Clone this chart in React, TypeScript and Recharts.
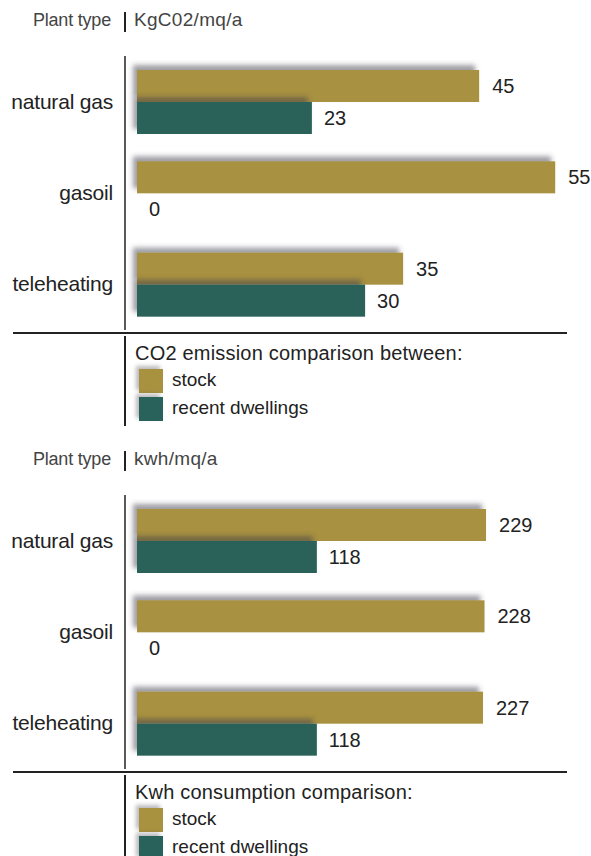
import { Bar, BarChart, LabelList, XAxis, YAxis } from "recharts";

const categories = ["natural gas", "gasoil", "teleheating"];
const co2Stock = [45, 55, 35];
const co2Recent = [23, 0, 30];
const kwhStock = [229, 228, 227];
const kwhRecent = [118, 0, 118];

const GOLD = "#A8913F";
const TEAL = "#29625A";
const INK = "#222222";
const FONT = '"Liberation Sans", Arial, Helvetica, sans-serif';

interface ShadowRectProps {
  x?: number;
  y?: number;
  width?: number;
  height?: number;
  fill?: string;
  filterId: string;
}

// bar with a soft shadow thrown up and to the left
function ShadowRect({ x, y, width, height, fill, filterId }: ShadowRectProps) {
  if (x == null || y == null || !width || !height) return null;
  return (
    <rect
      x={x}
      y={y}
      width={width}
      height={height}
      fill={fill}
      filter={`url(#${filterId})`}
    />
  );
}

function CategoryTick({ x, y, payload }: { x?: number; y?: number; payload?: { value: string } }) {
  return (
    <text
      x={x}
      y={y}
      dy={7}
      textAnchor="end"
      fontSize={21}
      letterSpacing={-0.2}
      fill={INK}
      fontFamily={FONT}
    >
      {payload?.value}
    </text>
  );
}

interface PanelProps {
  id: string;
  top: number;
  unit: string;
  legendTitle: string;
  stock: number[];
  recent: number[];
  max: number;
  right: number;
}

function Panel({ id, top, unit, legendTitle, stock, recent, max, right }: PanelProps) {
  const data = categories.map((name, i) => ({
    name,
    stock: stock[i],
    recent: recent[i],
  }));
  const filterId = `bar-shadow-${id}`;

  return (
    <div style={{ position: "absolute", left: 0, top, width: 591, height: 440 }}>
      {/* header row */}
      <div
        style={{
          position: "absolute",
          left: 0,
          top: 10,
          width: 111,
          textAlign: "right",
          fontSize: 18,
          letterSpacing: -0.2,
          color: "#444",
          lineHeight: "20px",
        }}
      >
        Plant type
      </div>
      <div style={{ position: "absolute", left: 124, top: 12, width: 1.5, height: 20, background: INK }} />
      <div
        style={{
          position: "absolute",
          left: 134,
          top: 10,
          fontSize: 19,
          letterSpacing: 0.3,
          color: "#444",
          lineHeight: "20px",
        }}
      >
        {unit}
      </div>

      <div style={{ position: "absolute", left: 0, top: 0 }}>
        <BarChart
          width={591}
          height={340}
          data={data}
          layout="vertical"
          barGap={0}
          margin={{ top: 56, right, bottom: 10, left: 0 }}
        >
          <defs>
            <filter id={filterId} x="-10%" y="-60%" width="120%" height="220%">
              <feDropShadow dx={-4} dy={-5} stdDeviation={2.5} floodColor="#3a3a4a" floodOpacity={0.5} />
            </filter>
          </defs>
          <XAxis type="number" hide domain={[0, max]} padding={{ left: 12, right: 0 }} />
          <YAxis
            type="category"
            dataKey="name"
            width={125}
            tickSize={0}
            tickMargin={12}
            tickLine={false}
            axisLine={{ stroke: INK, strokeWidth: 1.5 }}
            tick={<CategoryTick />}
          />
          <Bar
            dataKey="stock"
            fill={GOLD}
            barSize={32}
            isAnimationActive={false}
            shape={(p: any) => <ShadowRect {...p} filterId={filterId} />}
          >
            <LabelList dataKey="stock" position="right" offset={13} fill={INK} fontSize={20} fontFamily={FONT} />
          </Bar>
          <Bar
            dataKey="recent"
            fill={TEAL}
            barSize={32}
            isAnimationActive={false}
            shape={(p: any) => <ShadowRect {...p} filterId={filterId} />}
          >
            <LabelList dataKey="recent" position="right" offset={12} fill={INK} fontSize={20} fontFamily={FONT} />
          </Bar>
        </BarChart>
      </div>

      {/* separator and legend */}
      <div style={{ position: "absolute", left: 13, top: 332, width: 554, height: 1.5, background: INK }} />
      <div style={{ position: "absolute", left: 124, top: 336, width: 1.5, height: 90, background: INK }} />
      <div
        style={{
          position: "absolute",
          left: 135,
          top: 343,
          fontSize: 20,
          letterSpacing: 0.2,
          color: INK,
          lineHeight: "20px",
          whiteSpace: "nowrap",
        }}
      >
        {legendTitle}
      </div>
      {[
        { label: "stock", color: GOLD, y: 369 },
        { label: "recent dwellings", color: TEAL, y: 397 },
      ].map((item) => (
        <div key={item.label}>
          <div
            style={{
              position: "absolute",
              left: 139,
              top: item.y,
              width: 24,
              height: 24,
              background: item.color,
              boxShadow: "-3px -3px 4px rgba(60,60,70,0.35)",
            }}
          />
          <div
            style={{
              position: "absolute",
              left: 172,
              top: item.y + 1,
              fontSize: 19,
              color: INK,
              lineHeight: "20px",
            }}
          >
            {item.label}
          </div>
        </div>
      ))}
    </div>
  );
}

export default function App() {
  return (
    <div
      style={{
        position: "relative",
        width: 591,
        height: 856,
        overflow: "hidden",
        background: "#ffffff",
        fontFamily: FONT,
      }}
    >
      <style>{"body{margin:0}"}</style>
      <Panel
        id="co2"
        top={0}
        unit="KgC02/mq/a"
        legendTitle="CO2 emission comparison between:"
        stock={co2Stock}
        recent={co2Recent}
        max={58}
        right={13}
      />
      <Panel
        id="kwh"
        top={439}
        unit="kwh/mq/a"
        legendTitle="Kwh consumption comparison:"
        stock={kwhStock}
        recent={kwhRecent}
        max={290}
        right={12}
      />
    </div>
  );
}
